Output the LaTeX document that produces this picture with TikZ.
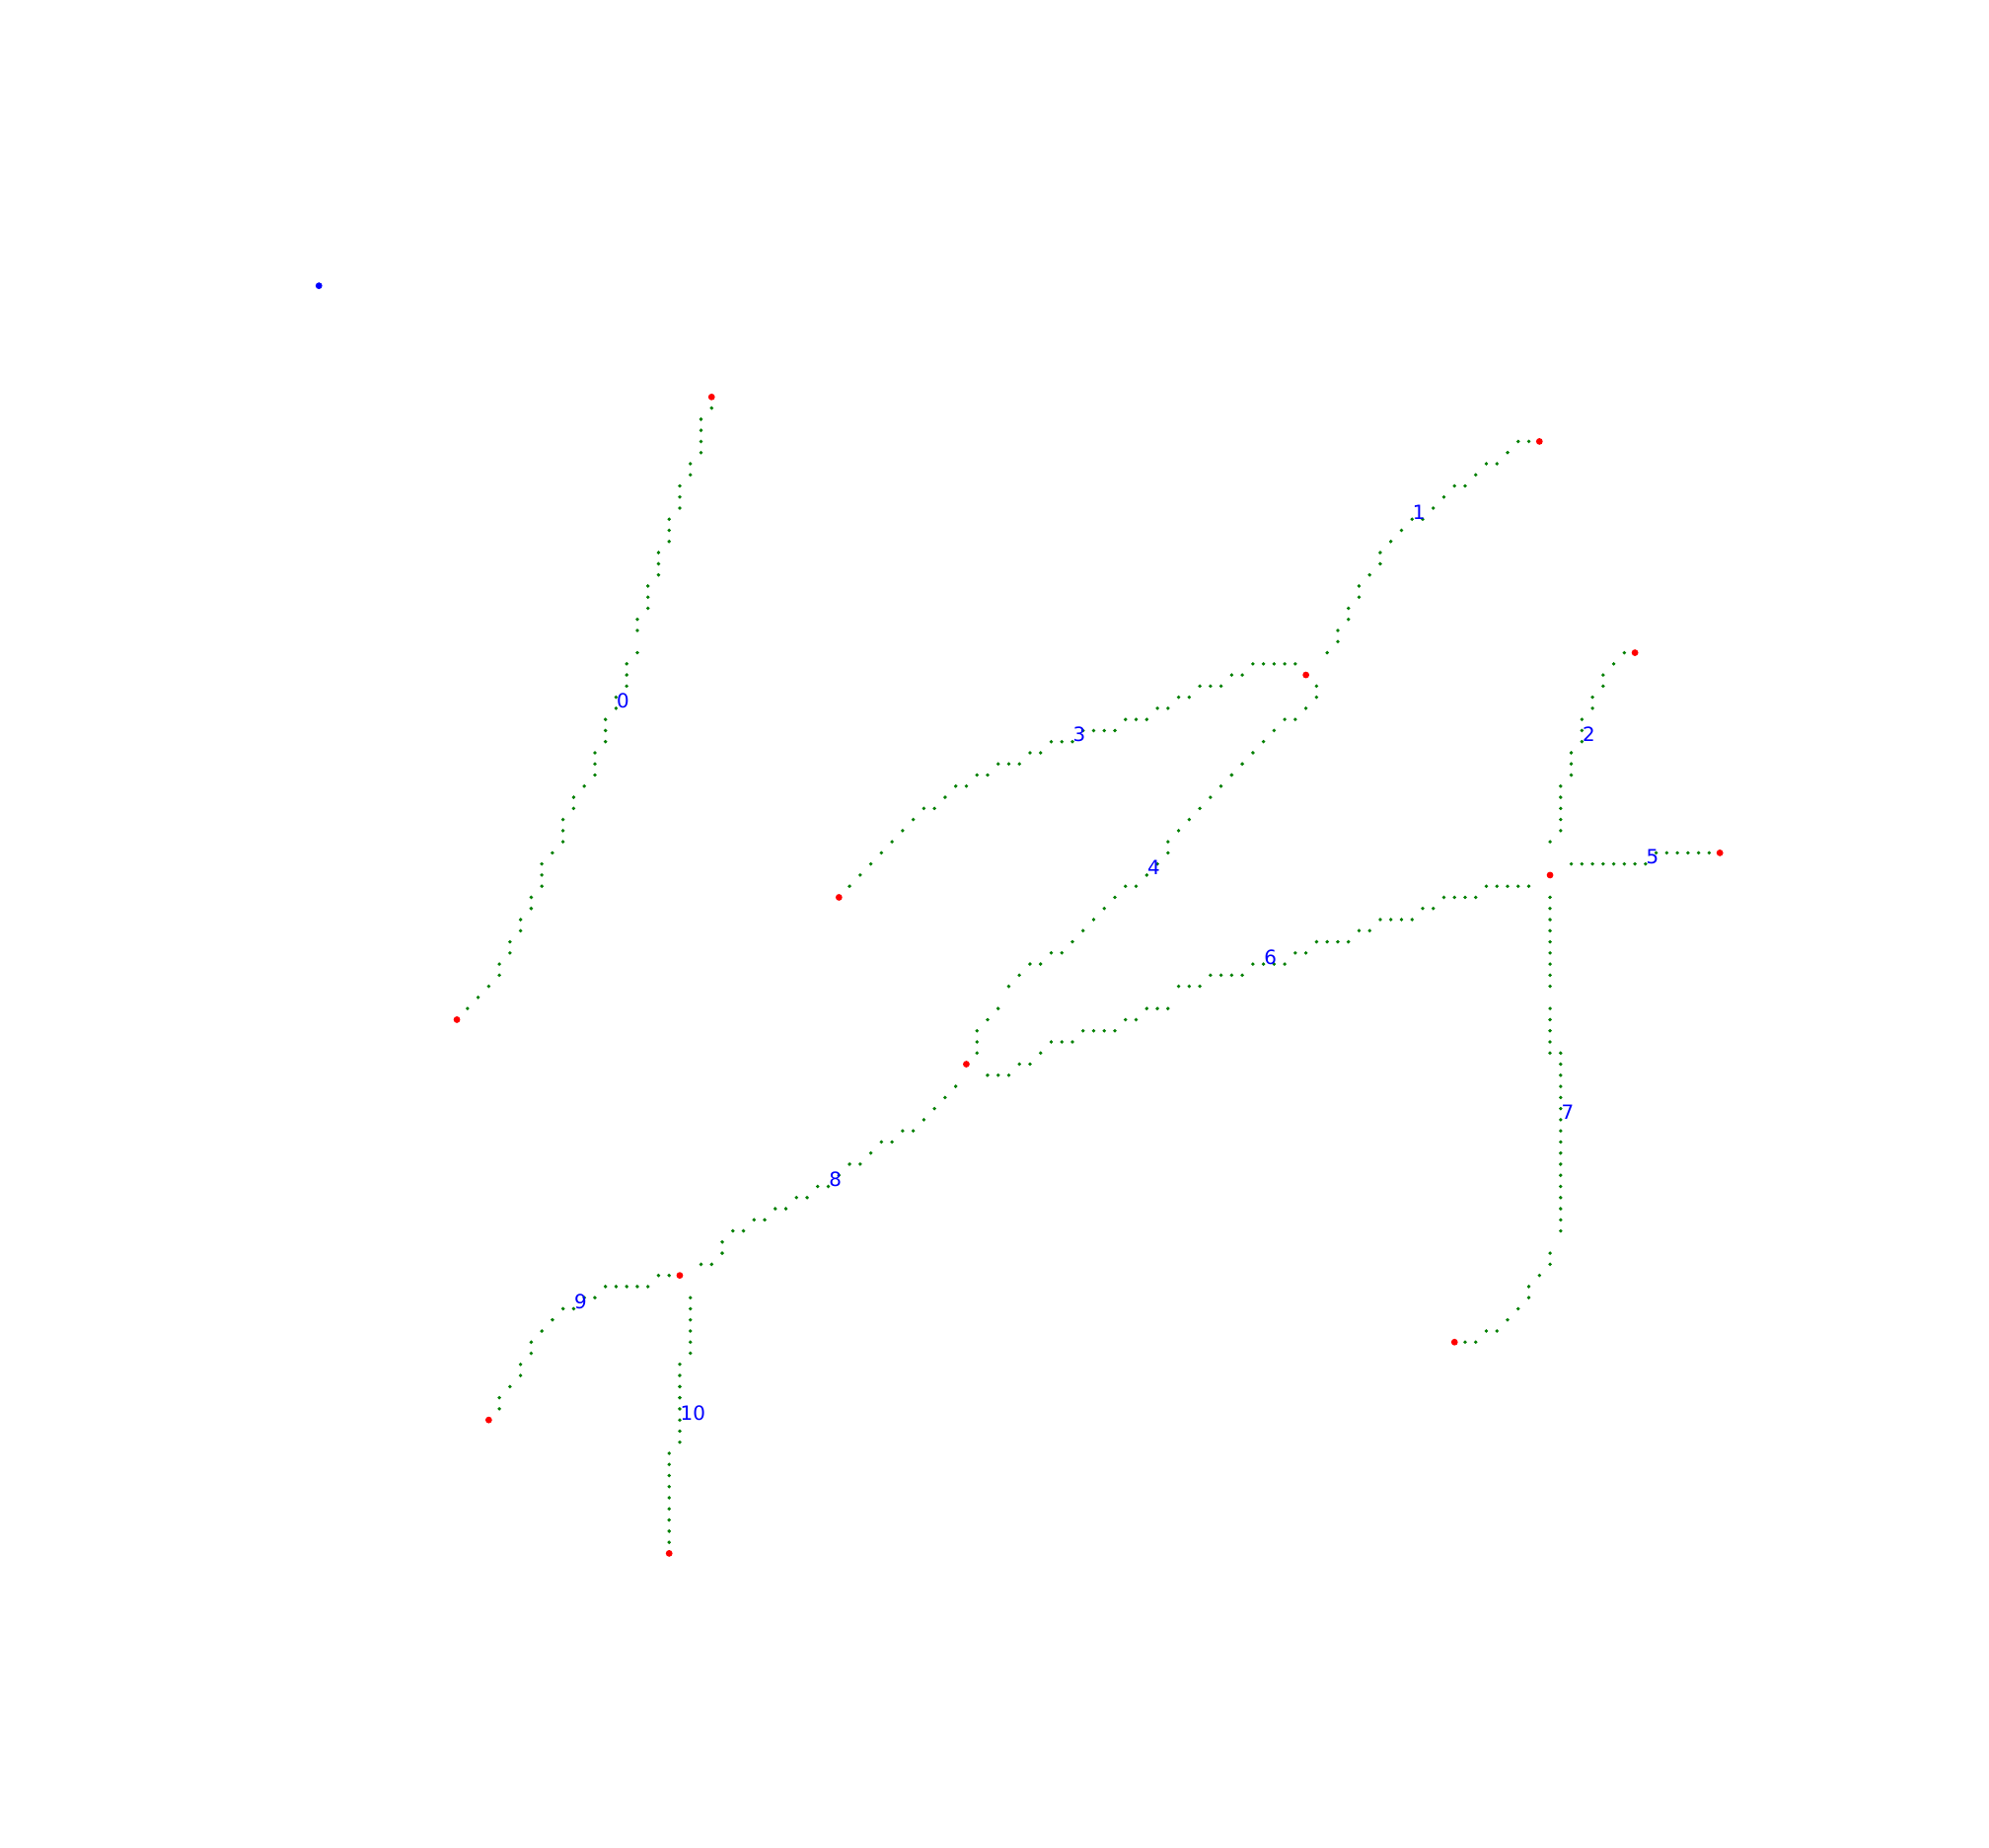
\documentclass[tikz,border=0pt]{standalone}
\usepackage{fontspec}
\setsansfont{DejaVu Sans}
\definecolor{skelgreen}{RGB}{0,128,0}
\begin{document}
\begin{tikzpicture}[x=0.10757cm, y=-0.1127cm,
    skel/.style={fill=skelgreen},
    knot/.style={circle, fill=red, inner sep=0pt, minimum size=0.068cm},
    seed/.style={circle, fill=blue, inner sep=0pt, minimum size=0.068cm},
    lbl/.style={anchor=base west, inner sep=0pt, text=blue, font=\sffamily\fontsize{5.65}{6.8}\selectfont}]
    % Canvas
    \fill[white] (-67.05,-35.70) rectangle (120.36,130.41);
    % Skeleton pixels, branch by branch
    % branch 0
    \foreach \x/\y in {0/1, -1/2, -1/3, -1/4, -1/5, -2/6, -2/7, -3/8, -3/9, -3/10, -4/11, -4/12, -4/13,
        -5/14, -5/15, -5/16, -6/17, -6/18, -6/19, -7/20, -7/21, -7/23, -8/24, -8/25, -8/26, -9/27, -9/28,
        -10/29, -10/30, -10/31, -11/32, -11/33, -11/34, -12/35, -13/36, -13/37, -14/38, -14/39, -14/40,
        -15/41, -16/42, -16/43, -16/44, -17/45, -17/46, -18/47, -18/48, -19/49, -19/50, -20/51, -20/52,
        -21/53, -22/54, -23/55}
        \fill[skel] (\x,\y) circle (0.019cm);
    % branch 1
    \foreach \x/\y in {77/4, 76/4, 75/5, 74/6, 73/6, 72/7, 71/8, 70/8, 69/9, 68/10, 67/11, 66/11, 65/12,
        64/13, 63/14, 63/15, 62/16, 61/17, 61/18, 60/19, 60/20, 59/21, 59/22, 58/23}
        \fill[skel] (\x,\y) circle (0.019cm);
    % branch 2
    \foreach \x/\y in {86/23, 85/24, 84/25, 84/26, 83/27, 83/28, 82/29, 82/30, 82/31, 81/32, 81/33, 81/34,
        80/35, 80/36, 80/37, 80/38, 80/39, 79/40}
        \fill[skel] (\x,\y) circle (0.019cm);
    % branch 3
    \foreach \x/\y in {55/24, 54/24, 53/24, 52/24, 51/24, 50/25, 49/25, 48/26, 47/26, 46/26, 45/27, 44/27,
        43/28, 42/28, 41/29, 40/29, 39/29, 38/30, 37/30, 36/30, 35/30, 34/31, 33/31, 32/31, 31/32, 30/32,
        29/33, 28/33, 27/33, 26/34, 25/34, 24/35, 23/35, 22/36, 21/37, 20/37, 19/38, 18/39, 17/40, 16/41,
        15/42, 14/43, 13/44}
        \fill[skel] (\x,\y) circle (0.019cm);
    % branch 4
    \foreach \x/\y in {57/26, 57/27, 56/28, 55/29, 54/29, 53/30, 52/31, 51/32, 50/33, 49/34, 48/35, 47/36,
        46/37, 45/38, 44/39, 43/40, 43/41, 42/42, 41/43, 40/44, 39/44, 38/45, 37/46, 36/47, 35/48, 34/49,
        33/50, 32/50, 31/51, 30/51, 29/52, 28/53, 27/55, 26/56, 25/57, 25/58, 25/59}
        \fill[skel] (\x,\y) circle (0.019cm);
    % branch 5
    \foreach \x/\y in {81/42, 82/42, 83/42, 84/42, 85/42, 86/42, 87/42, 88/42, 89/41, 90/41, 91/41, 92/41,
        93/41, 94/41}
        \fill[skel] (\x,\y) circle (0.019cm);
    % branch 6
    \foreach \x/\y in {26/61, 27/61, 28/61, 29/60, 30/60, 31/59, 32/58, 33/58, 34/58, 35/57, 36/57, 37/57,
        38/57, 39/56, 40/56, 41/55, 42/55, 43/55, 44/53, 45/53, 46/53, 47/52, 48/52, 49/52, 50/52, 51/51,
        52/51, 53/51, 54/51, 55/50, 56/50, 57/49, 58/49, 59/49, 60/49, 61/48, 62/48, 63/47, 64/47, 65/47,
        66/47, 67/46, 68/46, 69/45, 70/45, 71/45, 72/45, 73/44, 74/44, 75/44, 76/44, 77/44}
        \fill[skel] (\x,\y) circle (0.019cm);
    % branch 7
    \foreach \y in {45,...,53, 55,56,57,58,59}
        \fill[skel] (79,\y) circle (0.019cm);
    \foreach \y in {59,...,75}
        \fill[skel] (80,\y) circle (0.019cm);
    \foreach \x/\y in {79/77, 79/78, 78/79, 77/80, 77/81, 76/82, 75/83, 74/84, 73/84, 72/85, 71/85}
        \fill[skel] (\x,\y) circle (0.019cm);
    % branch 8
    \foreach \x/\y in {23/62, 22/63, 21/64, 20/65, 19/66, 18/66, 17/67, 16/67, 15/68, 14/69, 13/69, 12/70,
        11/71, 10/71, 9/72, 8/72, 7/73, 6/73, 5/74, 4/74, 3/75, 2/75, 1/76, 1/77, 0/78, -1/78}
        \fill[skel] (\x,\y) circle (0.019cm);
    % branch 9
    \foreach \x/\y in {-4/79, -5/79, -6/80, -7/80, -8/80, -9/80, -10/80, -11/81, -12/81, -13/82, -14/82,
        -15/83, -16/84, -17/85, -17/86, -18/87, -18/88, -19/89, -20/90, -20/91}
        \fill[skel] (\x,\y) circle (0.019cm);
    % branch 10
    \foreach \y in {81,...,86}
        \fill[skel] (-2,\y) circle (0.019cm);
    \foreach \y in {87,...,94}
        \fill[skel] (-3,\y) circle (0.019cm);
    \foreach \y in {95,...,103}
        \fill[skel] (-4,\y) circle (0.019cm);
    % Start point
    \node[seed] (s0) at (-37,-10) {};
    % Junctions and end points
    \node[knot] (nA) at (0,0) {};
    \node[knot] (nB) at (-24,56) {};
    \node[knot] (nC) at (78,4) {};
    \node[knot] (nD) at (56,25) {};
    \node[knot] (nE) at (87,23) {};
    \node[knot] (nF) at (79,43) {};
    \node[knot] (nG) at (95,41) {};
    \node[knot] (nH) at (12,45) {};
    \node[knot] (nI) at (24,60) {};
    \node[knot] (nJ) at (70,85) {};
    \node[knot] (nK) at (-3,79) {};
    \node[knot] (nL) at (-21,92) {};
    \node[knot] (nM) at (-4,104) {};
    % Branch numbers
    \node[lbl] (b0) at (-9,28) {0};
    \node[lbl] (b1) at (66,11) {1};
    \node[lbl] (b2) at (82,31) {2};
    \node[lbl] (b3) at (34,31) {3};
    \node[lbl] (b4) at (41,43) {4};
    \node[lbl] (b5) at (88,42) {5};
    \node[lbl] (b6) at (52,51) {6};
    \node[lbl] (b7) at (80,65) {7};
    \node[lbl] (b8) at (11,71) {8};
    \node[lbl] (b9) at (-13,82) {9};
    \node[lbl] (b10) at (-3,92) {10};
\end{tikzpicture}
\end{document}
